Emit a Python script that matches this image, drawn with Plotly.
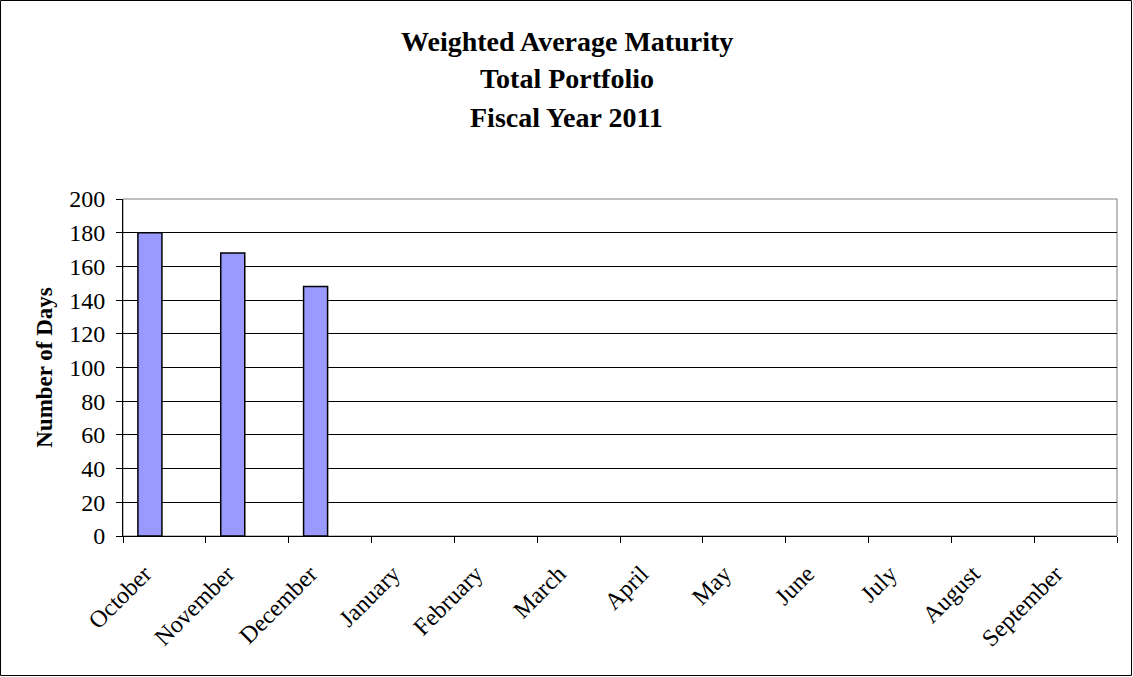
import plotly.graph_objects as go

months = ["October", "November", "December", "January", "February", "March",
          "April", "May", "June", "July", "August", "September"]
days = [180, 168, 148, None, None, None, None, None, None, None, None, None]
y_ticks = [0, 20, 40, 60, 80, 100, 120, 140, 160, 180, 200]
title_lines = ["Weighted Average Maturity", "Total Portfolio", "Fiscal Year 2011"]

W, H = 1133, 677
L, R, T, B = 123, 16, 199, 141
pw, ph = W - L - R, H - T - B

def px_x(px):
    return (px - L) / pw

def px_y(py):
    return (H - B - py) / ph

font = "Liberation Serif, Times New Roman, serif"
label_shift = 0.24  # category fraction that the labels sit left of centre

fig = go.Figure()
fig.add_trace(go.Bar(
    x=months, y=days,
    marker=dict(color="#9999FF", line=dict(color="black", width=1.5)),
    width=0.29, offset=-0.32, hoverinfo="x+y",
))
fig.add_trace(go.Scatter(
    x=months, y=days, xaxis="x2", mode="markers",
    marker=dict(opacity=0), hoverinfo="skip", showlegend=False,
))

annotations = []
for i, t in enumerate(title_lines):
    annotations.append(dict(
        text="<b>%s</b>" % t, xref="paper", yref="paper",
        x=px_x(566.5), y=px_y(41 + 38 * i), xanchor="center", yanchor="middle",
        showarrow=False, font=dict(family=font, size=28, color="black")))

fig.update_layout(
    width=W, height=H,
    margin=dict(l=L, r=R, t=T, b=B),
    paper_bgcolor="white", plot_bgcolor="white",
    showlegend=False,
    annotations=annotations,
    font=dict(family=font, color="black"),
    shapes=[
        dict(type="rect", xref="paper", yref="paper", x0=0, x1=1, y0=0, y1=1,
             line=dict(color="#808080", width=1), layer="below"),
        dict(type="rect", xref="paper", yref="paper",
             x0=px_x(0.5), x1=px_x(1131.5), y0=px_y(675.5), y1=px_y(0.5),
             line=dict(color="black", width=1)),
    ],
    xaxis=dict(
        type="category", categoryorder="array", categoryarray=months,
        tickson="boundaries", ticks="outside", ticklen=6,
        tickcolor="black", showline=True, linecolor="black",
        linewidth=1, showgrid=False, showticklabels=False,
        range=[-0.5, 11.5],
    ),
    xaxis2=dict(
        type="category", categoryorder="array", categoryarray=months,
        overlaying="x", side="bottom", anchor="y",
        range=[-0.5 + label_shift, 11.5 + label_shift],
        showline=False, showgrid=False, ticks="", tickangle=-45,
        tickfont=dict(family=font, size=24, color="black"),
        ticklabelstandoff=18,
    ),
    yaxis=dict(
        range=[0, 200], tickvals=y_ticks, ticks="outside", ticklen=6, tickcolor="black",
        showline=True, linecolor="black", linewidth=1,
        showgrid=True, gridcolor="black", gridwidth=1, zeroline=False,
        tickfont=dict(family=font, size=24, color="black"), ticklabelstandoff=6,
        title=dict(text="<b>Number of Days</b>",
                   font=dict(family=font, size=23, color="black"), standoff=10),
    ),
)

fig.write_html("out.html")
